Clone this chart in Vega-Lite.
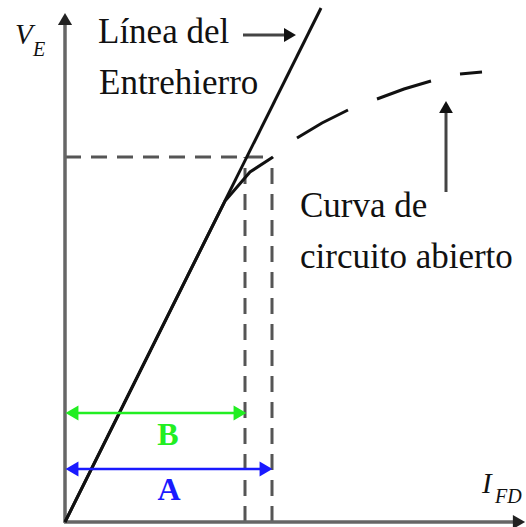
{
  "$schema": "https://vega.github.io/schema/vega-lite/v6.json",
  "width": 526,
  "height": 527,
  "padding": 0,
  "autosize": {"type": "none"},
  "background": "white",
  "config": {"view": {"stroke": null}},
  "datasets": {
    "guides": [
      {"x": 0, "y": 36.5, "x2": 20.7, "y2": 36.5},
      {"x": 18.0, "y": 0, "x2": 18.0, "y2": 36.5},
      {"x": 20.7, "y": 0, "x2": 20.7, "y2": 36.5}
    ],
    "axes": [
      {"x": 0, "y": -0.1, "x2": 0, "y2": 50.0},
      {"x": -0.1, "y": 0, "x2": 45.0, "y2": 0}
    ],
    "axisHeads": [
      {"x": 0, "y": 50.3, "dir": "up"},
      {"x": 45.4, "y": 0, "dir": "right"}
    ],
    "airGap": [
      {"x": 0, "y": 0, "x2": 25.6, "y2": 51.4}
    ],
    "openCircuit": [
      {"seg": 1, "i": 1, "x": 0, "y": 0},
      {"seg": 1, "i": 2, "x": 16.0, "y": 32.1},
      {"seg": 1, "i": 3, "x": 18.5, "y": 35.0},
      {"seg": 1, "i": 4, "x": 20.8, "y": 36.5},
      {"seg": 2, "i": 1, "x": 23.2, "y": 38.4},
      {"seg": 2, "i": 2, "x": 25.7, "y": 39.9},
      {"seg": 2, "i": 3, "x": 28.3, "y": 41.2},
      {"seg": 3, "i": 1, "x": 31.2, "y": 42.3},
      {"seg": 3, "i": 2, "x": 33.9, "y": 43.3},
      {"seg": 3, "i": 3, "x": 36.6, "y": 44.1},
      {"seg": 4, "i": 1, "x": 39.5, "y": 44.8},
      {"seg": 4, "i": 2, "x": 41.7, "y": 45.0}
    ],
    "spans": [
      {"label": "B", "x": 0.5, "x2": 17.5, "y": 10.9},
      {"label": "A", "x": 0.5, "x2": 20.1, "y": 5.3}
    ],
    "spanHeads": [
      {"label": "B", "x": 0.7, "y": 10.9, "dir": "left"},
      {"label": "B", "x": 17.5, "y": 10.9, "dir": "right"},
      {"label": "A", "x": 0.7, "y": 5.3, "dir": "left"},
      {"label": "A", "x": 20.1, "y": 5.3, "dir": "right"}
    ],
    "spanLabels": [
      {"label": "B", "x": 10.3, "y": 7.7},
      {"label": "A", "x": 10.4, "y": 2.2}
    ],
    "pointers": [
      {"x": 17.8, "y": 48.7, "x2": 22.5, "y2": 48.7},
      {"x": 38.1, "y": 33.0, "x2": 38.1, "y2": 41.5}
    ],
    "pointerHeads": [
      {"x": 22.5, "y": 48.7, "dir": "right"},
      {"x": 38.1, "y": 41.5, "dir": "up"}
    ],
    "notes": [
      {"text": "Línea del", "x": 3.3, "y": 47.9},
      {"text": "Entrehierro", "x": 3.4, "y": 42.8},
      {"text": "Curva de", "x": 23.5, "y": 30.5},
      {"text": "circuito abierto", "x": 23.5, "y": 25.4}
    ],
    "symbols": [
      {"text": "V", "x": -5.0, "y": 47.8},
      {"text": "I", "x": 41.7, "y": 2.9}
    ],
    "subscripts": [
      {"text": "E", "x": -3.2, "y": 46.6},
      {"text": "FD", "x": 43.0, "y": 1.9}
    ]
  },
  "encoding": {
    "x": {"field": "x", "type": "quantitative", "scale": {"domain": [-6.5, 46.1], "nice": false, "zero": false}, "axis": null},
    "y": {"field": "y", "type": "quantitative", "scale": {"domain": [-0.5, 52.2], "nice": false, "zero": false}, "axis": null}
  },
  "layer": [
    {
      "data": {"name": "guides"},
      "mark": {"type": "rule", "color": "#555555", "strokeWidth": 3, "strokeDash": [16, 10]},
      "encoding": {"x2": {"field": "x2"}, "y2": {"field": "y2"}}
    },
    {
      "data": {"name": "axes"},
      "mark": {"type": "rule", "color": "#666666", "strokeWidth": 3.5},
      "encoding": {"x2": {"field": "x2"}, "y2": {"field": "y2"}}
    },
    {
      "data": {"name": "axisHeads"},
      "mark": {"type": "point", "filled": true, "opacity": 1, "color": "#222222", "size": 200},
      "encoding": {
        "shape": {"field": "dir", "type": "nominal", "legend": null,
          "scale": {"domain": ["left", "right", "up"], "range": ["triangle-left", "triangle-right", "triangle-up"]}}
      }
    },
    {
      "data": {"name": "airGap"},
      "mark": {"type": "rule", "color": "#111111", "strokeWidth": 3},
      "encoding": {"x2": {"field": "x2"}, "y2": {"field": "y2"}}
    },
    {
      "data": {"name": "openCircuit"},
      "mark": {"type": "line", "color": "#111111", "strokeWidth": 3},
      "encoding": {
        "detail": {"field": "seg", "type": "nominal"},
        "order": {"field": "i", "type": "quantitative"}
      }
    },
    {
      "data": {"name": "spans"},
      "mark": {"type": "rule", "strokeWidth": 2.5},
      "encoding": {
        "x2": {"field": "x2"},
        "color": {"field": "label", "type": "nominal", "legend": null,
          "scale": {"domain": ["B", "A"], "range": ["#22ee22", "#1a1aff"]}}
      }
    },
    {
      "data": {"name": "spanHeads"},
      "mark": {"type": "point", "filled": true, "opacity": 1, "size": 220},
      "encoding": {
        "color": {"field": "label", "type": "nominal", "legend": null,
          "scale": {"domain": ["B", "A"], "range": ["#22ee22", "#1a1aff"]}},
        "shape": {"field": "dir", "type": "nominal", "legend": null,
          "scale": {"domain": ["left", "right", "up"], "range": ["triangle-left", "triangle-right", "triangle-up"]}}
      }
    },
    {
      "data": {"name": "pointers"},
      "mark": {"type": "rule", "color": "#444444", "strokeWidth": 3},
      "encoding": {"x2": {"field": "x2"}, "y2": {"field": "y2"}}
    },
    {
      "data": {"name": "pointerHeads"},
      "mark": {"type": "point", "filled": true, "opacity": 1, "color": "#111111", "size": 190},
      "encoding": {
        "shape": {"field": "dir", "type": "nominal", "legend": null,
          "scale": {"domain": ["left", "right", "up"], "range": ["triangle-left", "triangle-right", "triangle-up"]}}
      }
    },
    {
      "data": {"name": "notes"},
      "mark": {"type": "text", "align": "left", "baseline": "alphabetic", "font": "Liberation Serif", "fontSize": 35, "color": "#111111"},
      "encoding": {"text": {"field": "text"}}
    },
    {
      "data": {"name": "symbols"},
      "mark": {"type": "text", "align": "left", "baseline": "alphabetic", "font": "Liberation Serif", "fontStyle": "italic", "fontSize": 29, "color": "#111111"},
      "encoding": {"text": {"field": "text"}}
    },
    {
      "data": {"name": "subscripts"},
      "mark": {"type": "text", "align": "left", "baseline": "alphabetic", "font": "Liberation Serif", "fontStyle": "italic", "fontSize": 20, "color": "#111111"},
      "encoding": {"text": {"field": "text"}}
    },
    {
      "data": {"name": "spanLabels"},
      "mark": {"type": "text", "align": "center", "baseline": "alphabetic", "font": "Liberation Serif", "fontWeight": "bold", "fontSize": 32},
      "encoding": {
        "text": {"field": "label"},
        "color": {"field": "label", "type": "nominal", "legend": null,
          "scale": {"domain": ["B", "A"], "range": ["#22ee22", "#1a1aff"]}}
      }
    }
  ]
}
